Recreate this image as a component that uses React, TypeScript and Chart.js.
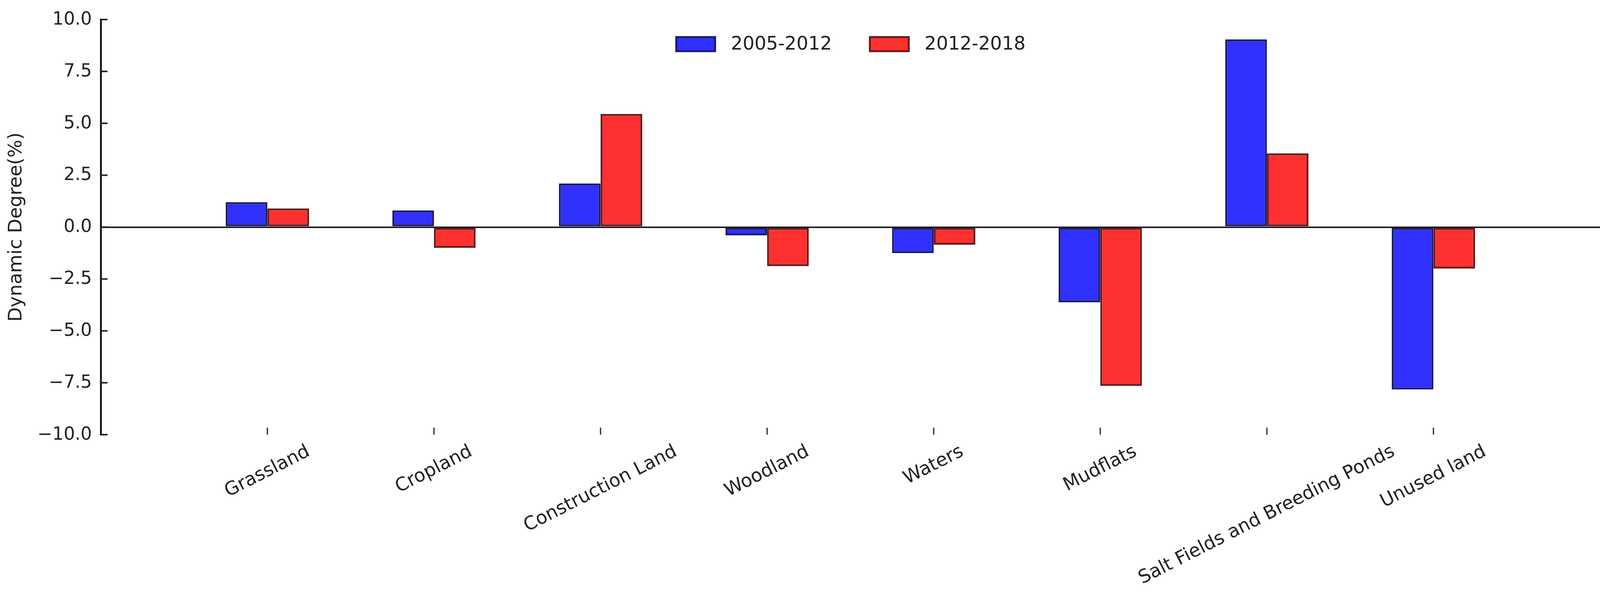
import React, { useEffect, useRef } from 'react';
import { Chart, registerables } from 'chart.js';

Chart.register(...registerables);

const categories = [
  'Grassland',
  'Cropland',
  'Construction Land',
  'Woodland',
  'Waters',
  'Mudflats',
  'Salt Fields and Breeding Ponds',
  'Unused land',
];
const seriesNames = ['2005-2012', '2012-2018'];
const values2005to2012 = [1.2, 0.8, 2.1, -0.4, -1.25, -3.62, 9.04, -7.82];
const values2012to2018 = [0.9, -1.0, 5.45, -1.88, -0.85, -7.65, 3.55, -2.0];
const yTickValues = [-10, -7.5, -5, -2.5, 0, 2.5, 5, 7.5, 10];
const yTitle = 'Dynamic Degree(%)';

const FONT = '"DejaVu Sans", sans-serif';
const TEXT = '#222222';
const fills = ['#3030ff', '#ff3030'];
const edges = ['#1a1a60', '#601a1a'];

const fmt = (v: number) => (v < 0 ? '\u2212' : '') + Math.abs(v).toFixed(1);

function makeDecor(k: number, ky: number) {
  return {
    id: 'decor',
    afterDraw(chart: any) {
      const ctx = chart.ctx as CanvasRenderingContext2D;
      const { left, right, bottom } = chart.chartArea;
      const xs = chart.scales.x;
      const ys = chart.scales.y;
      ctx.save();
      // inward y ticks + labels
      ctx.strokeStyle = TEXT;
      ctx.lineWidth = 4 * ky;
      ctx.font = `${48 * k}px ${FONT}`;
      ctx.fillStyle = TEXT;
      ctx.textAlign = 'right';
      ctx.textBaseline = 'middle';
      ys.ticks.forEach((t: any) => {
        const py = ys.getPixelForValue(t.value);
        ctx.beginPath();
        ctx.moveTo(left, py);
        ctx.lineTo(left + 18 * k, py);
        ctx.stroke();
        ctx.fillText(fmt(t.value), left - 24 * k, py + 1 * ky);
      });
      // inward x ticks
      ctx.strokeStyle = '#333333';
      ctx.lineWidth = 3.5 * k;
      categories.forEach((_, i) => {
        const px = xs.getPixelForValue(i);
        ctx.beginPath();
        ctx.moveTo(px, bottom);
        ctx.lineTo(px, bottom - 18 * ky);
        ctx.stroke();
      });
      // rotated x labels, centred on the tick
      const size = 50 * k;
      ctx.font = `${size}px ${FONT}`;
      ctx.fillStyle = TEXT;
      ctx.textAlign = 'center';
      ctx.textBaseline = 'middle';
      const th = (27 * Math.PI) / 180;
      categories.forEach((c, i) => {
        const px = xs.getPixelForValue(i);
        const w = ctx.measureText(c).width;
        const bh = w * Math.sin(th) + size * Math.cos(th);
        const cy = bottom + 20 * ky + bh / 2;
        ctx.save();
        ctx.translate(px, cy);
        ctx.rotate(-th);
        ctx.fillText(c, 0, 0);
        ctx.restore();
      });
      // legend inside the plot area
      ctx.font = `${50 * k}px ${FONT}`;
      const boxW = 110 * k;
      const boxH = 41 * ky;
      const bw = 5 * k;
      const gapText = 40 * k;
      const gapItem = 100 * k;
      const ds = chart.data.datasets;
      const widths = ds.map((d: any) => ctx.measureText(d.label).width);
      let total = 0;
      widths.forEach((w: number, i: number) => {
        total += boxW + gapText + w + (i < widths.length - 1 ? gapItem : 0);
      });
      const cx = (left + right) / 2;
      let x = cx - total / 2;
      const cy = 113 * ky;
      ctx.textAlign = 'left';
      ctx.textBaseline = 'middle';
      ds.forEach((d: any, i: number) => {
        ctx.fillStyle = d.borderColor;
        ctx.fillRect(x, cy - boxH / 2, boxW, boxH);
        ctx.fillStyle = d.backgroundColor;
        ctx.fillRect(x + bw, cy - boxH / 2 + bw, boxW - 2 * bw, boxH - 2 * bw);
        ctx.fillStyle = TEXT;
        ctx.fillText(d.label, x + boxW + gapText, cy + 2 * ky);
        x += boxW + gapText + widths[i] + gapItem;
      });
      ctx.restore();
    },
  };
}

export default function App() {
  const ref = useRef<HTMLCanvasElement | null>(null);

  useEffect(() => {
    if (!ref.current) return;
    document.body.style.margin = '0';
    document.body.style.overflow = 'hidden';
    const k = window.innerWidth / 4317;
    const ky = window.innerHeight / 1562;
    const titleSize = 48 * ky;
    const titlePad = Math.max(0, 45 * k - (titleSize * 1.2) / 2);
    const seriesValues = [values2005to2012, values2012to2018];
    const chart = new Chart(ref.current, {
      type: 'bar',
      data: {
        datasets: seriesValues.map((vals, s) => ({
          label: seriesNames[s],
          data: categories.map((_, i) => ({ x: i, y: vals[i] })),
          backgroundColor: fills[s],
          borderColor: edges[s],
          borderWidth: 5 * k,
          borderSkipped: false,
          categoryPercentage: 0.5,
          barPercentage: 1.0,
        })),
      },
      options: {
        animation: false,
        responsive: true,
        maintainAspectRatio: false,
        events: [],
        layout: { padding: { left: 0, right: 0, top: 50 * ky, bottom: 449 * ky } },
        plugins: {
          legend: { display: false },
          tooltip: { enabled: false },
          title: { display: false },
        },
        scales: {
          x: {
            type: 'linear',
            min: -1,
            max: categories.length,
            offset: false,
            display: false,
            grid: { offset: false },
            ticks: { stepSize: 1 },
          },
          y: {
            type: 'linear',
            min: -10,
            max: 10,
            afterBuildTicks: (axis: any) => {
              axis.ticks = yTickValues.map((v) => ({ value: v }));
            },
            afterFit: (scale: any) => {
              scale.width = 272 * k;
            },
            ticks: { display: false },
            grid: {
              drawTicks: false,
              lineWidth: 4 * ky,
              color: (c: any) => (c.tick && c.tick.value === 0 ? TEXT : 'rgba(0,0,0,0)'),
            },
            border: { display: true, color: '#111111', width: 5 * k },
            title: {
              display: true,
              text: yTitle,
              color: TEXT,
              font: { family: FONT, size: titleSize },
              padding: { top: titlePad, bottom: 0 },
            },
          },
        },
      },
      plugins: [makeDecor(k, ky)],
    } as any);
    return () => chart.destroy();
  }, []);

  return (
    <div style={{ position: 'absolute', left: 0, top: 0, width: '100vw', height: '100vh', background: '#fff' }}>
      <canvas ref={ref} />
    </div>
  );
}
